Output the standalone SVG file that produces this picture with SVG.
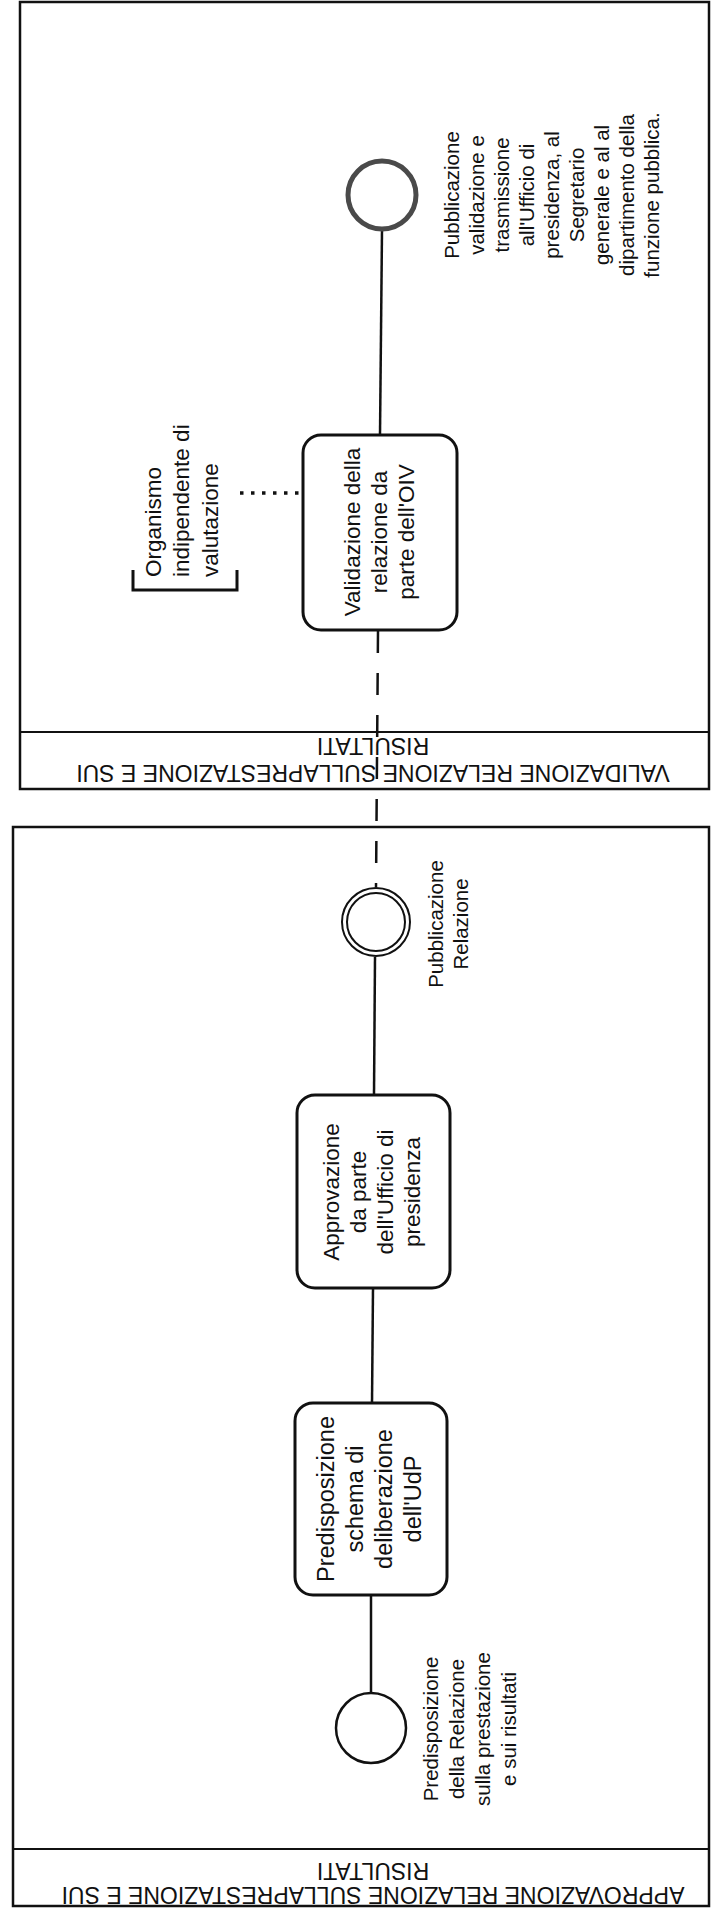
<svg xmlns="http://www.w3.org/2000/svg" width="712" height="1912" viewBox="0 0 712 1912">
<style>
.pool{fill:none;stroke:#111;stroke-width:2.5}
.band{stroke:#111;stroke-width:2}
.hdr{font-family:"Liberation Sans",Arial,sans-serif;font-size:23px;fill:#111;text-anchor:middle}
.task{fill:#fff;stroke:#111;stroke-width:3}
.tt{font-family:"Liberation Sans",Arial,sans-serif;font-size:22.5px;fill:#111;text-anchor:middle}
.tt3{font-size:23.5px}
.lbl{font-family:"Liberation Sans",Arial,sans-serif;font-size:20.5px;fill:#111;text-anchor:middle}
.ann{font-family:"Liberation Sans",Arial,sans-serif;font-size:22.5px;fill:#111;text-anchor:start}
.flow{stroke:#111;stroke-width:2.5;fill:none}
.msg{stroke-dasharray:22 20}
.assoc{stroke:#111;stroke-width:3.5;stroke-dasharray:3.5 7.5;fill:none}
.ev{fill:#fff;stroke:#111;stroke-width:2.5}
.evd{fill:none;stroke:#111;stroke-width:2}
.evend{fill:#fff;stroke:#4a4a4a;stroke-width:5}
</style>
<rect x="0" y="0" width="712" height="1912" fill="#fff"/>

<g id="pool-validazione">
  <rect class="pool" x="20" y="2" width="689" height="787"/>
  <line class="band" x1="20" y1="732" x2="709" y2="732"/>
  <text class="hdr" transform="translate(373,738) rotate(180)">RISULTATI</text>
  <text class="hdr" transform="translate(373,765) rotate(180)">VALIDAZIONE RELAZIONE SULLAPRESTAZIONE E SUI</text>
</g>

<g id="pool-approvazione">
  <rect class="pool" x="13" y="827" width="696" height="1079"/>
  <line class="band" x1="13" y1="1849" x2="709" y2="1849"/>
  <text class="hdr" transform="translate(373,1863) rotate(180)">RISULTATI</text>
  <text class="hdr" transform="translate(373,1887) rotate(180)">APPROVAZIONE RELAZIONE SULLAPRESTAZIONE E SUI</text>
</g>

<g id="connectors">
  <path class="flow" d="M382,230 L380,435"/>
  <path class="flow msg" d="M378,631 L376,887"/>
  <path class="flow" d="M375,957 L374,1095"/>
  <path class="flow" d="M373,1288 L372,1403"/>
  <path class="flow" d="M371,1595 L371,1693"/>
  <path class="assoc" d="M240,493 L302,493"/>
</g>

<g id="end-pubblicazione-validazione">
  <circle class="evend" cx="382" cy="195" r="34"/>
  <text class="lbl" transform="translate(459,195) rotate(-90)">Pubblicazione</text>
  <text class="lbl" transform="translate(484,195) rotate(-90)">validazione e</text>
  <text class="lbl" transform="translate(509,195) rotate(-90)">trasmissione</text>
  <text class="lbl" transform="translate(534,195) rotate(-90)">all'Ufficio di</text>
  <text class="lbl" transform="translate(559,195) rotate(-90)">presidenza, al</text>
  <text class="lbl" transform="translate(584,195) rotate(-90)">Segretario</text>
  <text class="lbl" transform="translate(609,195) rotate(-90)">generale e al al</text>
  <text class="lbl" transform="translate(634,195) rotate(-90)">dipartimento della</text>
  <text class="lbl" transform="translate(659,195) rotate(-90)">funzione pubblica.</text>
</g>

<g id="annotation-oiv">
  <path d="M133,570 V590 H237 V570" fill="none" stroke="#111" stroke-width="3"/>
  <text class="ann" transform="translate(161,577) rotate(-90)">Organismo</text>
  <text class="ann" transform="translate(189,577) rotate(-90)">indipendente di</text>
  <text class="ann" transform="translate(218,577) rotate(-90)">valutazione</text>
</g>

<g id="task-validazione">
  <rect class="task" x="303" y="435" width="154" height="195" rx="18"/>
  <text class="tt" transform="translate(360,532) rotate(-90)">Validazione della</text>
  <text class="tt" transform="translate(387,532) rotate(-90)">relazione da</text>
  <text class="tt" transform="translate(414,532) rotate(-90)">parte dell'OIV</text>
</g>

<g id="event-pubblicazione-relazione">
  <circle class="evd" cx="376" cy="922" r="34"/>
  <circle class="evd" cx="376" cy="922" r="29"/>
  <text class="lbl" transform="translate(443,924) rotate(-90)">Pubblicazione</text>
  <text class="lbl" transform="translate(468,924) rotate(-90)">Relazione</text>
</g>

<g id="task-approvazione">
  <rect class="task" x="297" y="1095" width="153" height="193" rx="18"/>
  <text class="tt" transform="translate(339,1192) rotate(-90)">Approvazione</text>
  <text class="tt" transform="translate(366,1192) rotate(-90)">da parte</text>
  <text class="tt" transform="translate(393,1192) rotate(-90)">dell'Ufficio di</text>
  <text class="tt" transform="translate(420,1192) rotate(-90)">presidenza</text>
</g>

<g id="task-predisposizione">
  <rect class="task" x="295" y="1403" width="152" height="192" rx="18"/>
  <text class="tt tt3" transform="translate(334,1499) rotate(-90)">Predisposizione</text>
  <text class="tt tt3" transform="translate(363,1499) rotate(-90)">schema di</text>
  <text class="tt tt3" transform="translate(392,1499) rotate(-90)">deliberazione</text>
  <text class="tt tt3" transform="translate(421,1499) rotate(-90)">dell'UdP</text>
</g>

<g id="start-predisposizione-relazione">
  <circle class="ev" cx="371" cy="1728" r="35"/>
  <text class="lbl" transform="translate(438,1729) rotate(-90)">Predisposizione</text>
  <text class="lbl" transform="translate(464,1729) rotate(-90)">della Relazione</text>
  <text class="lbl" transform="translate(490,1729) rotate(-90)">sulla prestazione</text>
  <text class="lbl" transform="translate(516,1729) rotate(-90)">e sui risultati</text>
</g>
</svg>
